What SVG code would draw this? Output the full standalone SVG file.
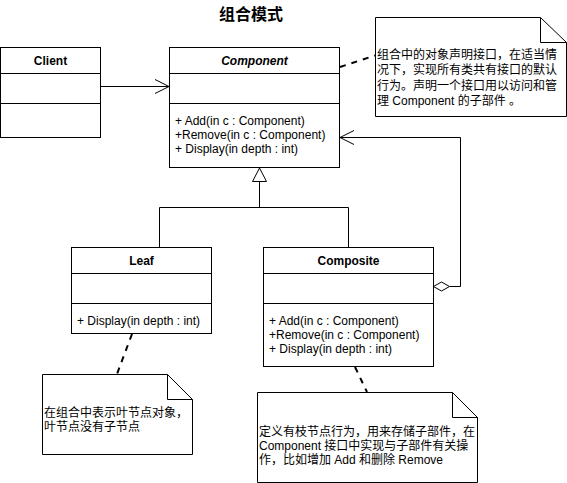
<svg xmlns="http://www.w3.org/2000/svg" width="567" height="483" viewBox="0 0 567 483">
  <style>
    .box { fill: #ffffff; stroke: #000000; stroke-width: 1; }
    .line { fill: none; stroke: #000000; stroke-width: 1; }
    .dash { fill: none; stroke: #000000; stroke-width: 2; stroke-dasharray: 6 6; }
    .head { fill: #ffffff; stroke: #000000; stroke-width: 1; }
    text { font-family: "Liberation Sans", "Noto Sans CJK SC", sans-serif; font-size: 12px; fill: #000000; }
    .title { font-size: 16px; font-weight: bold; text-anchor: middle; }
    .cls { font-weight: bold; text-anchor: middle; }
    .abs { font-weight: bold; font-style: italic; text-anchor: middle; }
  </style>

  <text class="title" x="251" y="20">组合模式</text>

  <!-- class boxes -->
  <g id="client">
    <rect class="box" x="0.5" y="47.5" width="100" height="90"/>
    <path class="line" d="M0.5 73.5H100.5M0.5 103.5H100.5"/>
    <text class="cls" x="50.5" y="65">Client</text>
  </g>

  <g id="component">
    <rect class="box" x="169.5" y="47.5" width="170" height="120"/>
    <path class="line" d="M169.5 73.5H339.5M169.5 103.5H339.5"/>
    <text class="abs" x="254.5" y="65">Component</text>
    <text x="175" y="125">+ Add(in c : Component)</text>
    <text x="175" y="139">+Remove(in c : Component)</text>
    <text x="175" y="153">+ Display(in depth : int)</text>
  </g>

  <g id="leaf">
    <rect class="box" x="71.5" y="247.5" width="140" height="86"/>
    <path class="line" d="M71.5 273.5H211.5M71.5 303.5H211.5"/>
    <text class="cls" x="141.5" y="265">Leaf</text>
    <text x="77" y="325">+ Display(in depth : int)</text>
  </g>

  <g id="composite">
    <rect class="box" x="263.5" y="247.5" width="170" height="119"/>
    <path class="line" d="M263.5 273.5H433.5M263.5 303.5H433.5"/>
    <text class="cls" x="348.5" y="265">Composite</text>
    <text x="269" y="325">+ Add(in c : Component)</text>
    <text x="269" y="339">+Remove(in c : Component)</text>
    <text x="269" y="353">+ Display(in depth : int)</text>
  </g>

  <!-- notes -->
  <g id="note-component">
    <path class="box" d="M375.5 17.5H540.5L566.5 42.5V116.5H375.5Z"/>
    <path class="line" d="M540.5 17.5V42.5H566.5"/>
    <text x="377" y="58.5">组合中的对象声明接口，在适当情</text>
    <text x="377" y="74">况下，实现所有类共有接口的默认</text>
    <text x="377" y="89.5">行为。声明一个接口用以访问和管</text>
    <text x="377" y="104.5">理 Component 的子部件 。</text>
  </g>

  <g id="note-leaf">
    <path class="box" d="M42.5 374.5H167.5L192.5 399.5V454.5H42.5Z"/>
    <path class="line" d="M167.5 374.5V399.5H192.5"/>
    <text x="44" y="417">在组合中表示叶节点对象，</text>
    <text x="44" y="431">叶节点没有子节点</text>
  </g>

  <g id="note-composite">
    <path class="box" d="M257.5 392.5H452.5L477.5 417.5V482.5H257.5Z"/>
    <path class="line" d="M452.5 392.5V417.5H477.5"/>
    <text x="259" y="436">定义有枝节点行为，用来存储子部件，在</text>
    <text x="259" y="450">Component 接口中实现与子部件有关操</text>
    <text x="259" y="464">作，比如增加 Add 和删除 Remove</text>
  </g>

  <!-- connectors -->
  <g id="connectors">
    <!-- association Client -> Component -->
    <path class="line" d="M100.5 86.5H169"/>
    <path class="line" d="M155 79.5L169 86.5L155 93.5"/>

    <!-- generalization Leaf / Composite -> Component -->
    <path class="line" d="M259.5 181.5V207.5M159.5 207.5H348.5M159.5 207.5V247.5M348.5 207.5V247.5"/>
    <path class="head" d="M259.5 168L266.5 181.5H252.5Z"/>

    <!-- aggregation Composite -> Component -->
    <path class="line" d="M449.5 286.5H460.5V137.5H340"/>
    <path class="line" d="M354 130.5L340 137.5L354 144.5"/>
    <path class="head" d="M433.5 286.5L441.5 282L449.5 286.5L441.5 291Z"/>

    <!-- note links -->
    <path class="dash" d="M340 67L375 55.5"/>
    <path class="dash" d="M132 334L117 374"/>
    <path class="dash" d="M355 367L367 392"/>
  </g>
</svg>
